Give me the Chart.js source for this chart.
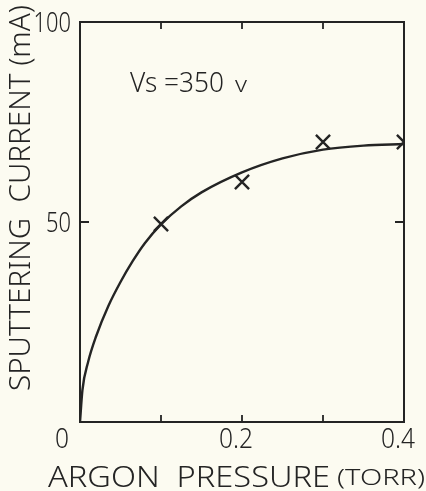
<!DOCTYPE html>
<html>
<head>
<meta charset="utf-8">
<script src="https://cdn.jsdelivr.net/npm/chart.js@4"></script>
<style>
    html, body { margin: 0; padding: 0; background: #fcfbf1; }
    #wrap { width: 426px; height: 491px; position: relative; }
</style>
</head>
<body>
<div id="wrap"><canvas id="sputterChart"></canvas></div>
<script>
// measured points (X marks)
const measuredPressure = [0.1, 0.2, 0.3, 0.4];
const measuredCurrent = [49.5, 60, 70, 70];

// hand drawn curve through the points
const curvePressure = [0, 0.003, 0.01, 0.02, 0.035, 0.05, 0.065, 0.08, 0.1, 0.125, 0.15, 0.2, 0.25, 0.3, 0.35, 0.4];
const curveCurrent = [0, 8, 15, 21.5, 29, 35, 40.2, 44.7, 49.4, 53.9, 57.4, 62.4, 65.9, 68.1, 69.1, 69.5];

// axis ticks
const xTicks = [0, 0.1, 0.2, 0.3, 0.4];
const xTickLabels = ['0', '', '0.2', '', '0.4'];
const yTicks = [0, 50, 100];
const yTickLabels = ['', '50', '100'];

const ink = '#242424';
const fontFamily = '"Noto Sans", "DejaVu Sans", sans-serif';
const fontWeight = '300';


function toXY(xs, ys) {
    return xs.map(function(x, i) {
        return { x: x, y: ys[i] };
    });
}


// text squeezed to a given width
function drawFitted(ctx, text, x, y, width, size) {
    ctx.save();
    ctx.font = fontWeight + ' ' + size + 'px ' + fontFamily;
    const w = ctx.measureText(text).width;
    ctx.translate(x, y);
    ctx.scale(width / w, 1);
    ctx.textAlign = 'left';
    ctx.textBaseline = 'alphabetic';
    ctx.fillText(text, 0, 0);
    ctx.restore();
}


// frame, inward ticks, labels
const framePlugin = {
    id: 'frame',
    afterDraw: function(chart) {

        const ctx = chart.ctx;
        const area = chart.chartArea;
        const xs = chart.scales.x;
        const ys = chart.scales.y;

        ctx.save();
        ctx.strokeStyle = ink;
        ctx.fillStyle = ink;
        ctx.lineWidth = 2;
        ctx.strokeRect(area.left, area.top, area.right - area.left, area.bottom - area.top);

        ctx.lineWidth = 1.8;
        xTicks.forEach(function(v) {
            if (v === xTicks[0] || v === xTicks[xTicks.length - 1]) {
                return;
            }
            const px = xs.getPixelForValue(v);
            ctx.beginPath();
            ctx.moveTo(px, area.bottom);
            ctx.lineTo(px, area.bottom - 7);
            ctx.moveTo(px, area.top);
            ctx.lineTo(px, area.top + 7);
            ctx.stroke();
        });

        yTicks.forEach(function(v) {
            if (v === yTicks[0] || v === yTicks[yTicks.length - 1]) {
                return;
            }
            const py = ys.getPixelForValue(v);
            ctx.beginPath();
            ctx.moveTo(area.left, py);
            ctx.lineTo(area.left + 9, py);
            ctx.moveTo(area.right, py);
            ctx.lineTo(area.right - 9, py);
            ctx.stroke();
        });

        // tick labels
        yTicks.forEach(function(v, i) {
            if (!yTickLabels[i]) {
                return;
            }
            const w = yTickLabels[i].length * 12.5;
            drawFitted(ctx, yTickLabels[i], area.left - 9 - w, ys.getPixelForValue(v) + 10, w, 28);
        });

        xTicks.forEach(function(v, i) {
            if (!xTickLabels[i]) {
                return;
            }
            const off = (i === 0) ? -18 : -6;
            const w = (xTickLabels[i].length === 1) ? 14 : 34;
            drawFitted(ctx, xTickLabels[i], xs.getPixelForValue(v) + off - w / 2, area.bottom + 26, w, 28);
        });

        // axis titles
        drawFitted(ctx, 'ARGON  PRESSURE', 48, 487, 282, 29);
        drawFitted(ctx, '(TORR)', 337, 485, 88, 22);

        ctx.save();
        ctx.translate(30, 391);
        ctx.rotate(-Math.PI / 2);
        drawFitted(ctx, 'SPUTTERING  CURRENT (mA)', 0, 0, 386, 30);
        ctx.restore();

        // annotation
        drawFitted(ctx, 'Vs =350', 130, 92, 94, 28);
        drawFitted(ctx, 'v', 235, 92, 12, 22);

        ctx.restore();
    }
};


let sputterChart;

function initSputterChart() {

    const ctx = document.getElementById('sputterChart');

    sputterChart = new Chart(ctx.getContext('2d'), {
        type: 'scatter',
        data: {
            datasets: [
                {
                    label: 'curve',
                    type: 'line',
                    data: toXY(curvePressure, curveCurrent),
                    borderColor: ink,
                    borderWidth: 2.4,
                    pointRadius: 0,
                    cubicInterpolationMode: 'monotone',
                    fill: false
                },
                {
                    label: 'measured',
                    data: toXY(measuredPressure, measuredCurrent),
                    pointStyle: 'crossRot',
                    pointRadius: 10,
                    borderColor: ink,
                    borderWidth: 2.4,
                    backgroundColor: ink
                }
            ]
        },
        options: {
            responsive: true,
            maintainAspectRatio: false,
            animation: false,
            layout: {
                padding: { left: 80, right: 22, top: 22, bottom: 69 }
            },
            plugins: {
                legend: { display: false },
                tooltip: { enabled: false }
            },
            scales: {
                x: {
                    type: 'linear',
                    display: false,
                    min: 0,
                    max: 0.4
                },
                y: {
                    display: false,
                    min: 0,
                    max: 100
                }
            }
        },
        plugins: [framePlugin]
    });
}

initSputterChart();
</script>
</body>
</html>
